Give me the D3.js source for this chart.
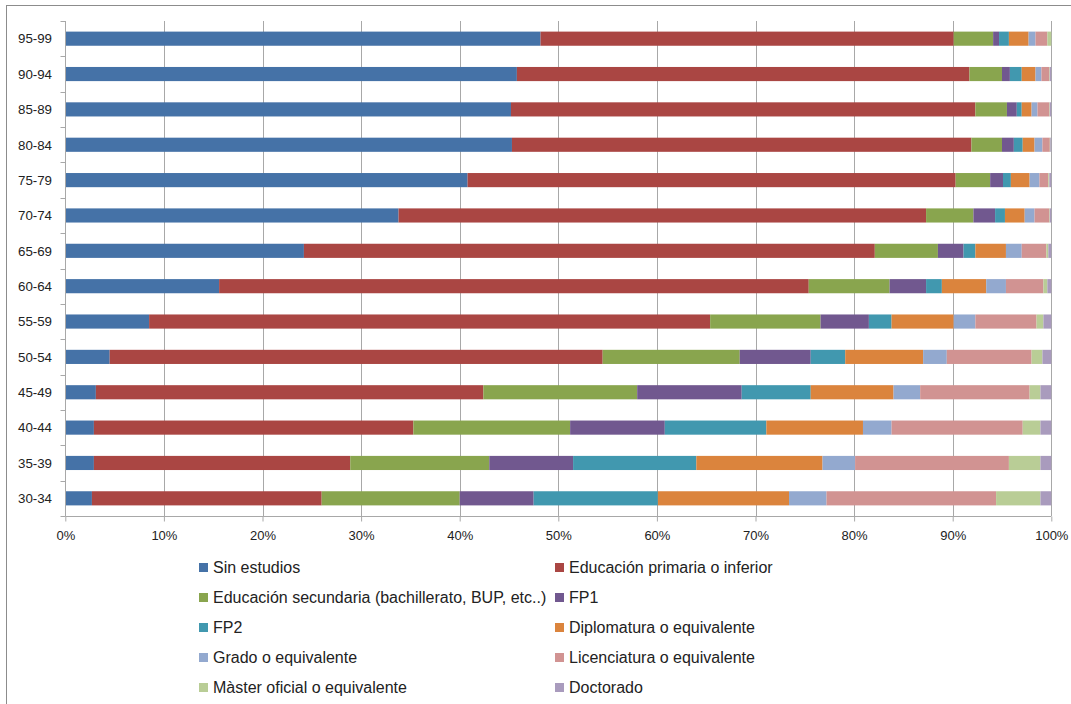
<!DOCTYPE html>
<html>
<head>
<meta charset="utf-8">
<script src="https://cdn.jsdelivr.net/npm/d3@7"></script>
<style>
  body { margin: 0; background: #fff; }
  svg { display: block; font-family: "Liberation Sans", Arial, sans-serif; }
</style>
</head>
<body>
<svg id="chart" width="1071" height="704"></svg>
<script>
var categories = ["95-99","90-94","85-89","80-84","75-79","70-74","65-69","60-64","55-59","50-54","45-49","40-44","35-39","30-34"];
var seriesNames = ["Sin estudios","Educación primaria o inferior","Educación secundaria (bachillerato, BUP, etc..)","FP1","FP2","Diplomatura o equivalente","Grado o equivalente","Licenciatura o equivalente","Màster oficial o equivalente","Doctorado"];
var colors = ["#4572a7","#aa4643","#89a54e","#71588f","#4198af","#db843d","#93a9cf","#d19392","#b9cd96","#a99bbd"];
var xTicks = [0,0.1,0.2,0.3,0.4,0.5,0.6,0.7,0.8,0.9,1];

// percent per age group
var sinEstudios  = [48.2,45.8,45.2,45.3,40.8,33.8,24.2,15.6,8.5,4.5,3.1,2.9,2.9,2.7];
var primaria     = [41.9,45.9,47.1,46.6,49.5,53.5,57.9,59.8,56.9,50.0,39.3,32.4,26.0,23.3];
var secundaria   = [4.0,3.3,3.2,3.1,3.5,4.8,6.4,8.2,11.2,13.9,15.6,15.9,14.1,14.0];
var fp1          = [0.6,0.8,1.0,1.2,1.3,2.2,2.6,3.7,4.9,7.2,10.6,9.6,8.5,7.5];
var fp2          = [1.0,1.2,0.5,0.9,0.8,1.0,1.2,1.6,2.3,3.5,7.0,10.3,12.5,12.6];
var diplomatura  = [2.0,1.4,1.0,1.2,1.9,2.0,3.1,4.5,6.3,7.9,8.4,9.8,12.8,13.3];
var grado        = [0.7,0.6,0.6,0.8,1.0,1.0,1.6,2.0,2.2,2.4,2.7,2.9,3.3,3.8];
var licenciatura = [1.2,0.8,1.2,0.75,0.9,1.5,2.5,3.8,6.2,8.6,11.1,13.3,15.6,17.2];
var master       = [0.4,0.05,0.05,0.05,0.1,0.05,0.2,0.4,0.7,1.1,1.1,1.8,3.2,4.5];
var doctorado    = [0.0,0.15,0.15,0.1,0.2,0.15,0.3,0.4,0.8,0.9,1.1,1.1,1.1,1.1];

var allSeries = [sinEstudios,primaria,secundaria,fp1,fp2,diplomatura,grado,licenciatura,master,doctorado];

var rows = categories.map(function(c, i) {
    var r = {cat: c};
    seriesNames.forEach(function(s, j) { r[s] = allSeries[j][i]; });
    return r;
});

var svg = d3.select("#chart");
var pLeft = 65.3, pRight = 1051.3, pTop = 21, pBottom = 516;
var gridColor = "#a8a8a8";

// outer chart border (only left/top visible in the crop)
svg.append("rect")
    .attr("x", 6.5).attr("y", 5.5)
    .attr("width", 1100).attr("height", 800)
    .attr("fill", "none").attr("stroke", "#8c8c8c");

var x = d3.scaleLinear().domain([0,1]).range([pLeft, pRight]);
var y = d3.scaleBand().domain(categories).range([pTop, pBottom]).paddingInner(0.6).paddingOuter(0.3);

// gridlines
svg.append("g").selectAll("line")
    .data(xTicks.slice(1))
    .enter().append("line")
    .attr("x1", function(d) { return Math.round(x(d)) + 0.5; })
    .attr("x2", function(d) { return Math.round(x(d)) + 0.5; })
    .attr("y1", pTop).attr("y2", pBottom)
    .attr("stroke", gridColor);

var stack = d3.stack().keys(seriesNames).offset(d3.stackOffsetExpand);
var layers = stack(rows);

svg.append("g").selectAll("g")
    .data(layers)
    .enter().append("g")
    .attr("fill", function(d, i) { return colors[i]; })
    .selectAll("rect")
    .data(function(d) { return d; })
    .enter().append("rect")
    .attr("x", function(d) { return x(d[0]); })
    .attr("y", function(d) { return y(d.data.cat); })
    .attr("width", function(d) { return Math.max(0, x(d[1]) - x(d[0])); })
    .attr("height", y.bandwidth());

// x axis
var xAxis = svg.append("g")
    .attr("transform", "translate(0," + (pBottom + 0.5) + ")")
    .call(d3.axisBottom(x).tickValues(xTicks).tickFormat(d3.format(".0%")).tickSize(5).tickPadding(9));
xAxis.select(".domain").attr("stroke", gridColor).attr("d", "M" + pLeft + ",0H" + pRight);
xAxis.selectAll(".tick line").attr("stroke", gridColor);
xAxis.selectAll("text").attr("font-size", "13px").attr("fill", "#222").attr("font-family", "Liberation Sans, Arial, sans-serif");

// y axis with ticks between categories
var yAxisG = svg.append("g").attr("transform", "translate(" + (Math.round(pLeft) + 0.5) + ",0)");
yAxisG.append("line").attr("y1", pTop).attr("y2", pBottom).attr("stroke", gridColor);
yAxisG.selectAll("line.tk")
    .data(d3.range(categories.length + 1))
    .enter().append("line")
    .attr("class", "tk")
    .attr("x1", -5).attr("x2", 0)
    .attr("y1", function(i) { return Math.round(pTop + i * (pBottom - pTop) / categories.length) + 0.5; })
    .attr("y2", function(i) { return Math.round(pTop + i * (pBottom - pTop) / categories.length) + 0.5; })
    .attr("stroke", gridColor);
svg.append("g").selectAll("text")
    .data(categories)
    .enter().append("text")
    .attr("x", 52)
    .attr("y", function(d) { return y(d) + y.bandwidth() / 2; })
    .attr("dy", "0.36em")
    .attr("text-anchor", "end")
    .attr("font-size", "13.3px")
    .attr("fill", "#222")
    .text(function(d) { return d; });

// legend, two columns
var legend = svg.append("g").selectAll("g")
    .data(seriesNames)
    .enter().append("g")
    .attr("transform", function(d, i) {
        var col = i % 2, row = Math.floor(i / 2);
        return "translate(" + (col ? 555 : 199) + "," + (563 + row * 30) + ")";
    });
legend.append("rect")
    .attr("width", 9).attr("height", 9)
    .attr("fill", function(d, i) { return colors[i]; });
legend.append("text")
    .attr("x", 14).attr("y", 10)
    .attr("font-size", "16px")
    .attr("fill", "#222")
    .text(function(d) { return d; });
</script>
</body>
</html>
